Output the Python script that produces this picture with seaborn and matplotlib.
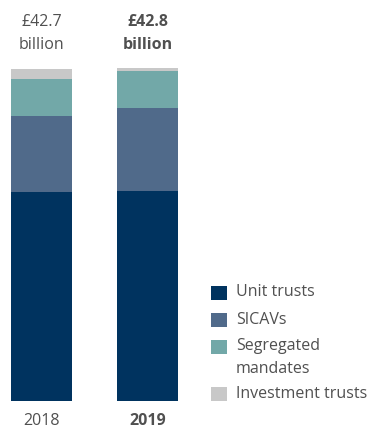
import matplotlib
matplotlib.use("Agg")
import matplotlib.pyplot as plt
import matplotlib.patches as mpatches
import seaborn as sns
import pandas as pd

years = ["2018", "2019"]
totals_text = ["£42.7\nbillion", "£42.8\nbillion"]
series = ["Unit trusts", "SICAVs", "Segregated mandates", "Investment trusts"]
legend_labels = ["Unit trusts", "SICAVs", "Segregated\nmandates", "Investment trusts"]
unit_trusts = [26.9, 27.0]
sicavs = [9.75, 10.65]
segregated = [4.75, 4.75]
investment = [1.3, 0.4]
colors = ["#00335F", "#506A8A", "#72A8A8", "#C8C8C8"]
text_color = "#505050"

sns.set_style("white")
plt.rcParams["font.family"] = ["Open Sans", "DejaVu Sans"]

W, H = 369, 430
fig = plt.figure(figsize=(W / 100, H / 100), dpi=100)
top_px, bot_px = 68, 401
ax = fig.add_axes([0, 1 - bot_px / H, 1, (bot_px - top_px) / H])

df = pd.DataFrame({"year": years, "u": unit_trusts, "s": sicavs,
                   "g": segregated, "i": investment})
cum = df[["u", "s", "g", "i"]].cumsum(axis=1)
width = 61 / 106
for col, c in zip(["i", "g", "s", "u"], colors[::-1]):
    sns.barplot(x=df["year"], y=cum[col], color=c, width=width, ax=ax,
                saturation=1, linewidth=0, edgecolor=c)

ax.set_xlim(-41.5 / 106, (W - 41.5) / 106)
ax.set_ylim(0, cum["i"].max())
ax.axis("off")

for i, (yr, t) in enumerate(zip(years, totals_text)):
    fw = "bold" if i == 1 else "normal"
    xpx = (41.5 + 106 * i) / W
    fig.text(xpx, 1 - 421 / H, yr, ha="center", va="center", fontsize=11.5,
             color=text_color, fontweight=fw)
    top, bottom = t.split("\n")
    fig.text(xpx, 1 - 22 / H, top, ha="center", va="center", fontsize=11.5,
             color=text_color, fontweight=fw)
    fig.text(xpx, 1 - 45 / H, bottom, ha="center", va="center", fontsize=11.5,
             color=text_color, fontweight=fw)

# legend (manual layout to match reference positions)
row_centers = [292.5, 319.5, 346.5, 394]
for lab, c, yc in zip(legend_labels, colors, row_centers):
    fig.patches.append(mpatches.Rectangle((211 / W, 1 - (yc + 7) / H), 16 / W, 14 / H,
                                          transform=fig.transFigure, facecolor=c,
                                          edgecolor="none"))
    lines = lab.split("\n")
    for k, ln in enumerate(lines):
        fig.text(236 / W, 1 - (yc + 22.5 * k) / H, ln, ha="left", va="center",
                 fontsize=11.5, color=text_color)

fig.savefig("out.png", dpi=100)
